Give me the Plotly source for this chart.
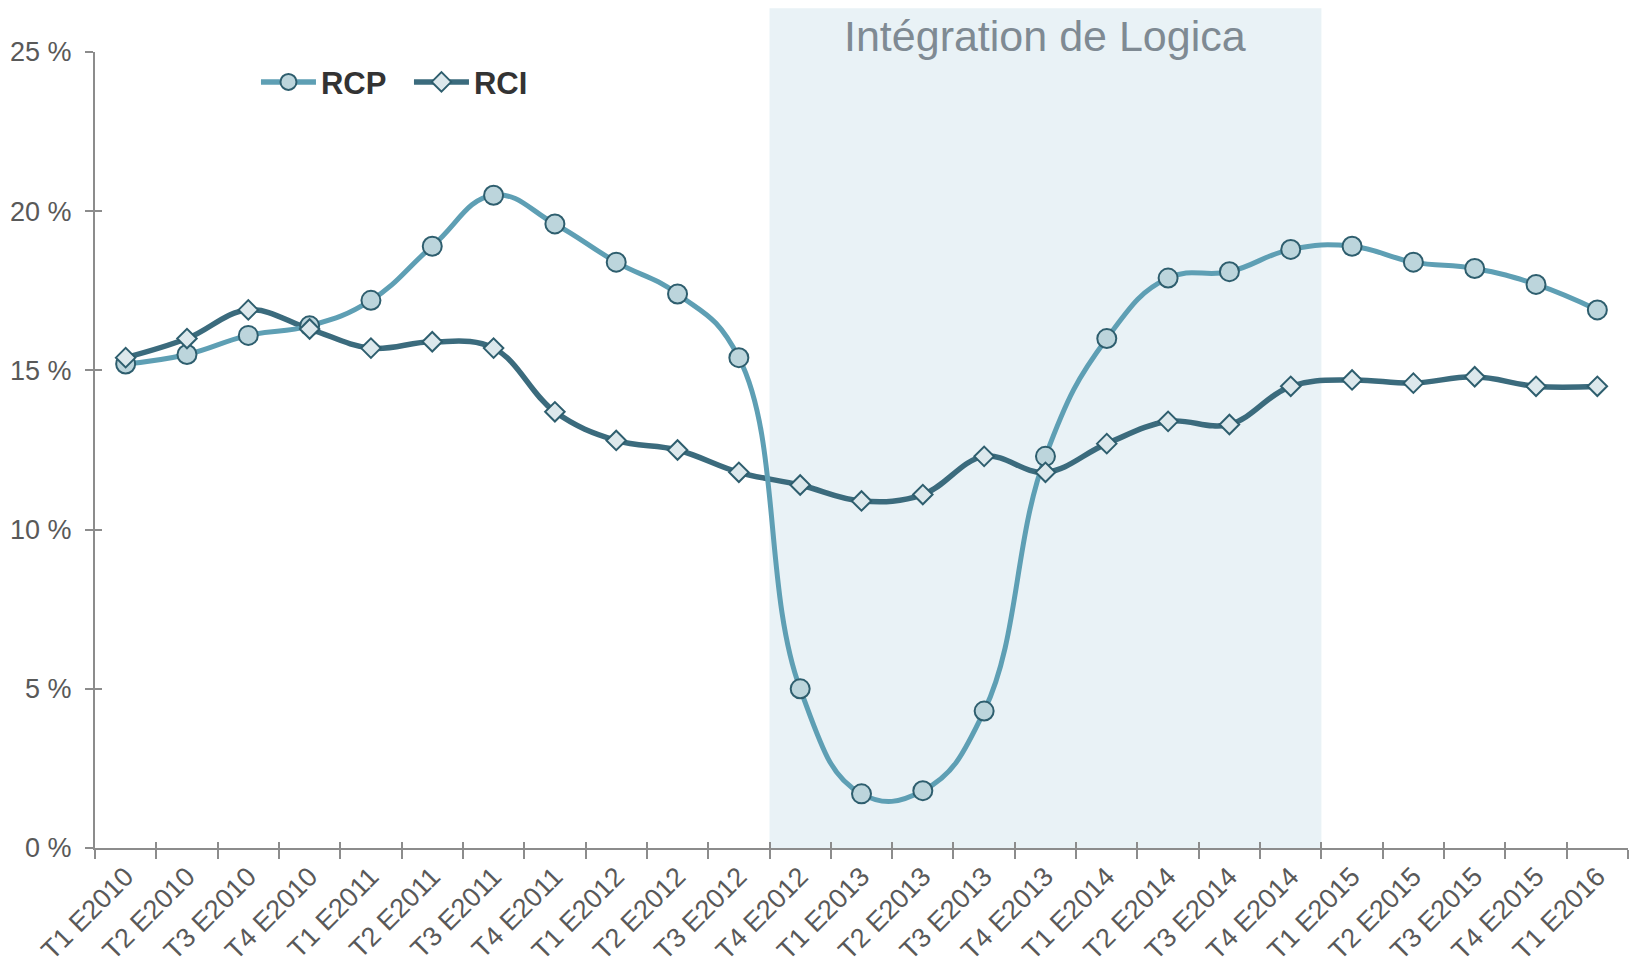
import plotly.graph_objects as go

categories = ["T1 E2010", "T2 E2010", "T3 E2010", "T4 E2010",
              "T1 E2011", "T2 E2011", "T3 E2011", "T4 E2011",
              "T1 E2012", "T2 E2012", "T3 E2012", "T4 E2012",
              "T1 E2013", "T2 E2013", "T3 E2013", "T4 E2013",
              "T1 E2014", "T2 E2014", "T3 E2014", "T4 E2014",
              "T1 E2015", "T2 E2015", "T3 E2015", "T4 E2015",
              "T1 E2016"]

rcp = [15.2, 15.5, 16.1, 16.4, 17.2, 18.9, 20.5, 19.6, 18.4, 17.4, 15.4, 5.0,
       1.7, 1.8, 4.3, 12.3, 16.0, 17.9, 18.1, 18.8, 18.9, 18.4, 18.2, 17.7, 16.9]
rci = [15.4, 16.0, 16.9, 16.3, 15.7, 15.9, 15.7, 13.7, 12.8, 12.5, 11.8, 11.4,
       10.9, 11.1, 12.3, 11.8, 12.7, 13.4, 13.3, 14.5, 14.7, 14.6, 14.8, 14.5, 14.5]

y_ticks = [0, 5, 10, 15, 20, 25]
y_tick_labels = ["0 %", "5 %", "10 %", "15 %", "20 %", "25 %"]

band_label = "Intégration de Logica"
band_start, band_end = "T4 E2012", "T4 E2014"

FONT = "Liberation Sans, Arial, sans-serif"
RCP_LINE = "#5E9FB4"
RCI_LINE = "#3B6B7D"
MARK_EDGE = "#2E5E6E"
RCP_FILL = "#BCD5DC"
RCI_FILL = "#DCE8EC"
AXIS = "#8C8C8C"

fig = go.Figure()

# lines first (RCI under RCP), then markers (RCP under RCI)
fig.add_trace(go.Scatter(x=categories, y=rci, mode="lines",
                         line=dict(color=RCI_LINE, width=5.5, shape="spline", smoothing=1.1),
                         showlegend=False, hoverinfo="skip"))
fig.add_trace(go.Scatter(x=categories, y=rcp, mode="lines",
                         line=dict(color=RCP_LINE, width=5, shape="spline", smoothing=1.25),
                         showlegend=False, hoverinfo="skip"))
fig.add_trace(go.Scatter(x=categories, y=rcp, mode="markers", name="RCP",
                         marker=dict(symbol="circle", size=19, color=RCP_FILL,
                                     line=dict(color=MARK_EDGE, width=2)),
                         showlegend=False))
fig.add_trace(go.Scatter(x=categories, y=rci, mode="markers", name="RCI",
                         marker=dict(symbol="diamond", size=15, color=RCI_FILL,
                                     line=dict(color=MARK_EDGE, width=2)),
                         showlegend=False))

# legend entries (on overlay axes)
fig.add_trace(go.Scatter(x=[None], y=[None], mode="lines+markers", name="RCP",
                         line=dict(color=RCP_LINE, width=5.5),
                         marker=dict(symbol="circle", size=19, color=RCP_FILL,
                                     line=dict(color=MARK_EDGE, width=2)),
                         xaxis="x2", yaxis="y2"))
fig.add_trace(go.Scatter(x=[None], y=[None], mode="lines+markers", name="RCI",
                         line=dict(color=RCI_LINE, width=5.5),
                         marker=dict(symbol="diamond", size=15, color=RCI_FILL,
                                     line=dict(color=MARK_EDGE, width=2)),
                         xaxis="x2", yaxis="y2"))

i0 = categories.index(band_start) - 0.5
i1 = categories.index(band_end) + 0.5
fig.add_shape(type="rect", xref="x", yref="paper", x0=i0, x1=i1, y0=0, y1=1.055,
              fillcolor="#E9F2F6", line=dict(width=0), layer="below")
fig.add_annotation(xref="x", yref="paper", x=(i0 + i1) / 2, y=1.02,
                   text=band_label, showarrow=False, yanchor="middle",
                   font=dict(family=FONT, size=43, color="#7F8A93"))

n = len(categories)
fig.update_layout(
    width=1638, height=969,
    margin=dict(l=95, r=10, t=52, b=121, autoexpand=False),
    paper_bgcolor="white", plot_bgcolor="rgba(0,0,0,0)",
    font=dict(family=FONT, color="#595959"),
    xaxis=dict(type="category", range=[-0.5, n - 0.5], tickson="boundaries",
               automargin=False,
               showgrid=False, zeroline=False, showline=True, linecolor=AXIS, linewidth=2,
               ticks="outside", ticklen=9, tickwidth=2, tickcolor=AXIS,
               tickangle=-45, tickfont=dict(size=27, color="#595959")),
    yaxis=dict(range=[0, 25], tickvals=y_ticks, ticktext=y_tick_labels,
               automargin=False,
               showgrid=False, zeroline=False, showline=True, linecolor=AXIS, linewidth=2,
               ticks="outside", ticklen=8, tickwidth=2, tickcolor=AXIS,
               ticklabelstandoff=8, tickfont=dict(size=27, color="#595959")),
    xaxis2=dict(overlaying="x", anchor="y2", type="linear", range=[-0.5, n - 0.5],
                tickmode="linear", tick0=-0.5, dtick=1, ticks="inside", ticklen=6,
                tickwidth=2, tickcolor=AXIS, showticklabels=False, showgrid=False,
                zeroline=False, showline=False, automargin=False),
    yaxis2=dict(overlaying="y", side="left", range=[0, 25], tickvals=y_ticks,
                ticks="inside", ticklen=7, tickwidth=2, tickcolor=AXIS,
                showticklabels=False, showgrid=False, zeroline=False, showline=False,
                automargin=False),
    legend=dict(orientation="h", x=0.105, xanchor="left", y=0.962, yanchor="middle",
                bgcolor="rgba(0,0,0,0)", itemwidth=55,
                entrywidth=83, entrywidthmode="pixels",
                font=dict(family=FONT, size=31, color="#333333", weight="bold")),
)

fig.write_html("out.html", config={"displayModeBar": False},
               post_script="document.body.style.margin='0';")
